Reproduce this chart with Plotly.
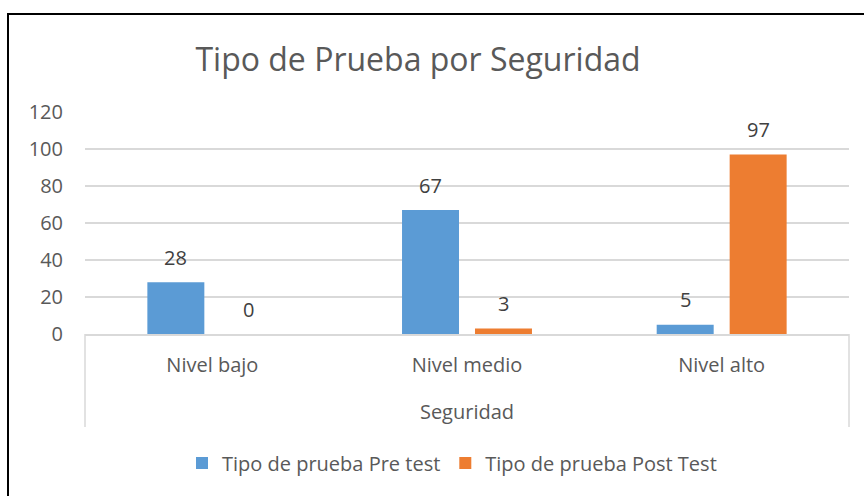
import plotly.graph_objects as go

categories = ["Nivel bajo", "Nivel medio", "Nivel alto"]
pre_test = [28, 67, 5]
post_test = [0, 3, 97]
series_names = ["Tipo de prueba Pre test", "Tipo de prueba Post Test"]
y_ticks = [0, 20, 40, 60, 80, 100, 120]
title_text = "Tipo de Prueba por Seguridad"
axis_title = "Seguridad"

W, H = 864, 496
L, R, T, B = 85, 849, 112, 334  # plot area in pixels


def px_x(p):
    return (p - L) / (R - L)


def px_y(p):
    return (B - p) / (B - T)


FONT = "Open Sans"
TXT = "#595959"
BLUE = "#5B9BD5"
ORANGE = "#ED7D31"
GRID = "#D9D9D9"

xs = list(range(len(categories)))
bargap = 0.427
slot = (1 - bargap) / 2

fig = go.Figure()
fig.add_trace(go.Bar(x=xs, y=pre_test, name=series_names[0], marker_color=BLUE,
                     marker_line_width=0))
fig.add_trace(go.Bar(x=xs, y=post_test, name=series_names[1], marker_color=ORANGE,
                     marker_line_width=0))

for vals, off in ((pre_test, -slot / 2), (post_test, slot / 2)):
    for i, v in enumerate(vals):
        fig.add_annotation(x=i + off, y=v, xref="x", yref="y", text=str(v),
                           showarrow=False, yanchor="middle", yshift=25,
                           font=dict(family=FONT, size=20, color="#404040"))

# multi-level axis separators
for xp in (0, 1):
    fig.add_shape(type="line", xref="paper", yref="paper", x0=xp, x1=xp,
                  y0=0, y1=px_y(427), line=dict(color=GRID, width=1.5))

# outer chart border (top and left visible)
fig.add_shape(type="rect", xref="paper", yref="paper",
              x0=px_x(8), x1=px_x(880), y0=px_y(14), y1=px_y(510),
              line=dict(color="black", width=2))

fig.update_layout(
    width=W, height=H,
    margin=dict(l=L, r=W - R, t=T, b=H - B),
    paper_bgcolor="white", plot_bgcolor="white",
    barmode="group", bargap=bargap, bargroupgap=0.219,
    font=dict(family=FONT, size=20, color=TXT),
    title=dict(text=title_text, font=dict(family=FONT, size=32, color=TXT),
               xref="paper", x=px_x(418), xanchor="center",
               yref="container", y=1 - 60 / H, yanchor="middle"),
    showlegend=True,
    legend=dict(orientation="h", xanchor="center", x=px_x(452),
                yanchor="middle", y=px_y(463), font=dict(size=20, color=TXT),
                itemwidth=30, tracegroupgap=0),
    xaxis=dict(tickmode="array", tickvals=xs, ticktext=categories,
               range=[-0.5, 2.5], showgrid=False, zeroline=False,
               showline=True, linecolor=GRID, linewidth=1.5,
               ticks="", ticklabelstandoff=12,
               title=dict(text=axis_title, standoff=28, font=dict(size=20, color=TXT))),
    yaxis=dict(range=[0, 120], tickvals=y_ticks, showgrid=True, gridcolor=GRID,
               gridwidth=1.5, zeroline=False, showline=False, ticks="",
               ticklabelstandoff=21),
)

fig.write_html("out.html", config={"displayModeBar": False},
               post_script="document.body.style.margin='0';document.body.style.overflow='hidden';")
